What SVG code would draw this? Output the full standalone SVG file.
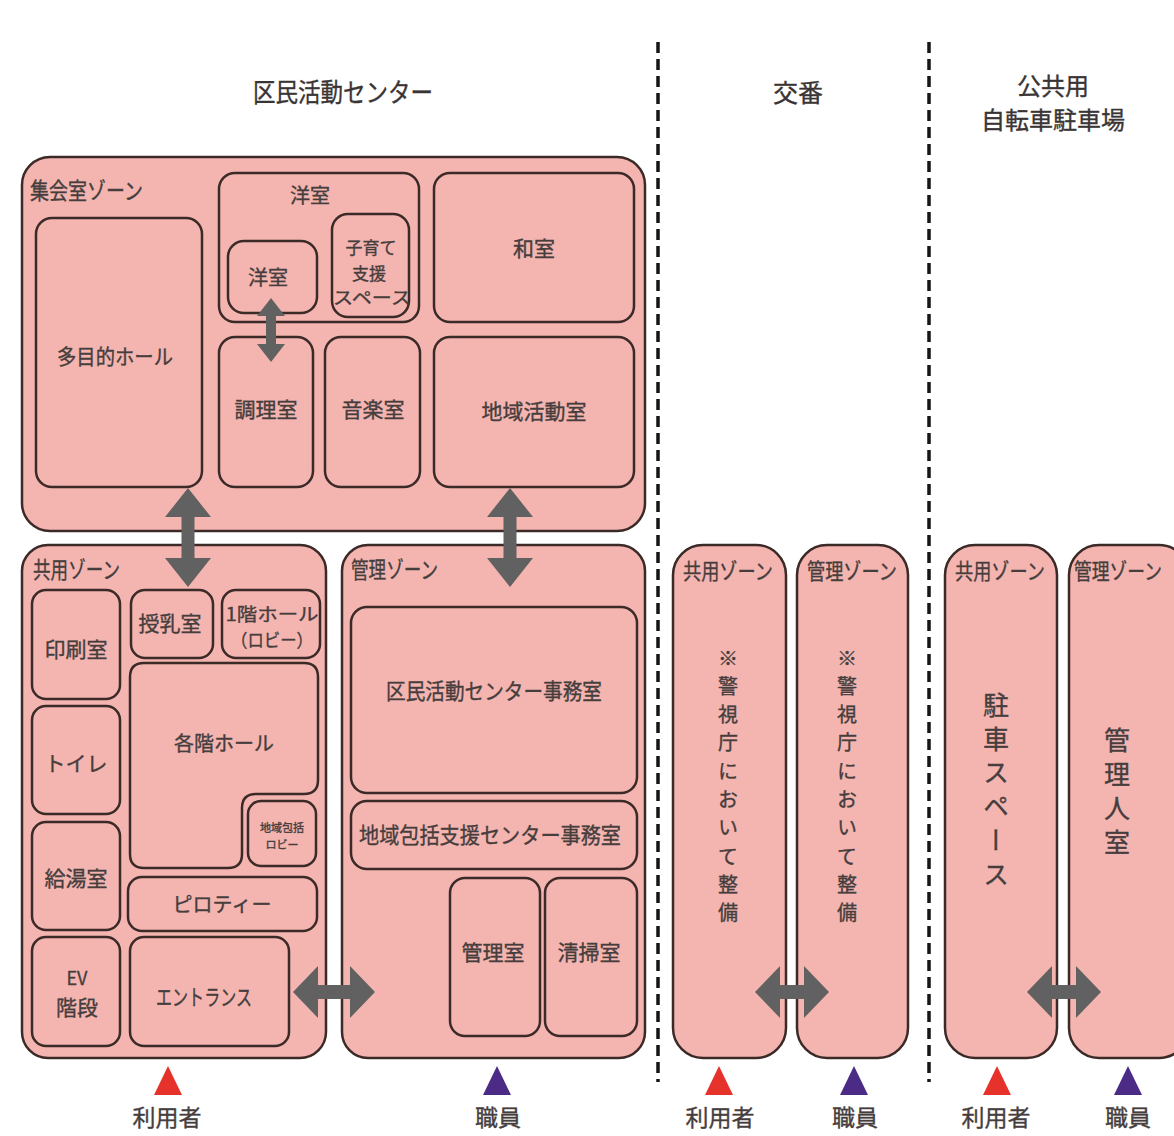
<svg xmlns="http://www.w3.org/2000/svg" width="1174" height="1136" viewBox="0 0 1174 1136">
<style>
.zone{fill:#f4b5b0;stroke:#3b2a27;stroke-width:2.5}
.room{fill:#f4b5b0;stroke:#3b2a27;stroke-width:2.5}
.t{font-family:"Noto Sans CJK JP","Noto Sans",sans-serif;fill:#463d3d;stroke:#463d3d;stroke-width:0.35;text-anchor:middle;dominant-baseline:central}
.h{fill:#3a3434;stroke:#3a3434}
.lab{text-anchor:start;font-size:23px}
.zl{font-size:22px}
.v{writing-mode:vertical-rl;text-anchor:start;dominant-baseline:auto}
.arrow{fill:#616161}
.dash{stroke:#151515;stroke-width:3.5;stroke-dasharray:11 6;fill:none}
.user{fill:#e5322b}
.staff{fill:#4b2b85}
</style>
<rect width="1174" height="1136" fill="#ffffff"/>

<g id="headers">
<text class="t h" x="343" y="90" font-size="26" textLength="180" lengthAdjust="spacingAndGlyphs">区民活動センター</text>
<text class="t h" x="798" y="91" font-size="25">交番</text>
<text class="t h" x="1053" y="84" font-size="24">公共用</text>
<text class="t h" x="1053" y="118" font-size="24">自転車駐車場</text>
</g>

<g id="dividers">
<line class="dash" x1="658" y1="42" x2="658" y2="1082"/>
<line class="dash" x1="929" y1="42" x2="929" y2="1082"/>
</g>

<g id="zone-meeting">
<rect class="zone" x="22" y="157" width="623" height="374" rx="28"/>
<text class="t lab" x="30" y="189" textLength="113" lengthAdjust="spacingAndGlyphs">集会室ゾーン</text>
</g>
<g id="room-hall">
<rect class="room" x="36" y="218" width="166" height="269" rx="16"/>
<text class="t" x="115" y="355" font-size="21" textLength="116" lengthAdjust="spacingAndGlyphs">多目的ホール</text>
</g>
<g id="room-western">
<rect class="room" x="219" y="173" width="200" height="149" rx="16"/>
<text class="t" x="310" y="194" font-size="20">洋室</text>
</g>
<g id="room-western-inner">
<rect class="room" x="228" y="241" width="89" height="72" rx="16"/>
<text class="t" x="268" y="276" font-size="20">洋室</text>
</g>
<g id="room-childcare">
<rect class="room" x="332" y="214" width="77" height="103" rx="16"/>
<text class="t" x="371" y="246" font-size="17">子育て</text>
<text class="t" x="369" y="272" font-size="17">支援</text>
<text class="t" x="372" y="296" font-size="17" textLength="78" lengthAdjust="spacingAndGlyphs">スペース</text>
</g>
<g id="room-japanese">
<rect class="room" x="434" y="173" width="200" height="149" rx="16"/>
<text class="t" x="534" y="247" font-size="21">和室</text>
</g>
<g id="room-cooking">
<rect class="room" x="219" y="337" width="94" height="150" rx="16"/>
<text class="t" x="266" y="408" font-size="21">調理室</text>
</g>
<g id="room-music">
<rect class="room" x="325" y="337" width="95" height="150" rx="16"/>
<text class="t" x="373" y="408" font-size="21">音楽室</text>
</g>
<g id="room-community">
<rect class="room" x="434" y="337" width="200" height="150" rx="16"/>
<text class="t" x="534" y="410" font-size="21">地域活動室</text>
</g>

<g id="zone-common">
<rect class="zone" x="22" y="545" width="304" height="513" rx="26"/>
<text class="t lab" x="33" y="568" textLength="87" lengthAdjust="spacingAndGlyphs">共用ゾーン</text>
</g>
<g id="room-print">
<rect class="room" x="32" y="590" width="88" height="109" rx="14"/>
<text class="t" x="76" y="648" font-size="21">印刷室</text>
</g>
<g id="room-nursing">
<rect class="room" x="131" y="590" width="82" height="68" rx="14"/>
<text class="t" x="170" y="622" font-size="21">授乳室</text>
</g>
<g id="room-lobby1">
<rect class="room" x="222" y="590" width="98" height="68" rx="14"/>
<text class="t" x="272" y="613" font-size="18" textLength="93" lengthAdjust="spacingAndGlyphs">1階ホール</text>
<text class="t" x="272" y="639" font-size="18" textLength="82" lengthAdjust="spacingAndGlyphs">（ロビー）</text>
</g>
<g id="room-floorhall">
<path class="room" d="M144,663 H304 Q318,663 318,677 V780 Q318,794 304,794 H256 Q242,794 242,808 V854 Q242,868 228,868 H144 Q130,868 130,854 V677 Q130,663 144,663 Z"/>
<text class="t" x="224" y="742" font-size="20">各階ホール</text>
</g>
<g id="room-local-lobby">
<rect class="room" x="248" y="801" width="68" height="65" rx="13"/>
<text class="t" x="282" y="827" font-size="11">地域包括</text>
<text class="t" x="282" y="844" font-size="11">ロビー</text>
</g>
<g id="room-toilet">
<rect class="room" x="32" y="706" width="88" height="108" rx="14"/>
<text class="t" x="76" y="762" font-size="21">トイレ</text>
</g>
<g id="room-kitchenette">
<rect class="room" x="32" y="822" width="88" height="108" rx="14"/>
<text class="t" x="76" y="877" font-size="21">給湯室</text>
</g>
<g id="room-piloti">
<rect class="room" x="128" y="877" width="189" height="54" rx="14"/>
<text class="t" x="222" y="903" font-size="20">ピロティー</text>
</g>
<g id="room-ev">
<rect class="room" x="32" y="937" width="88" height="109" rx="14"/>
<text class="t" x="77" y="977" font-size="18">EV</text>
<text class="t" x="77" y="1006" font-size="21">階段</text>
</g>
<g id="room-entrance">
<rect class="room" x="130" y="937" width="159" height="109" rx="14"/>
<text class="t" x="204" y="995" font-size="22" textLength="96" lengthAdjust="spacingAndGlyphs">エントランス</text>
</g>

<g id="zone-admin">
<rect class="zone" x="342" y="545" width="303" height="513" rx="26"/>
<text class="t lab" x="351" y="568" textLength="87" lengthAdjust="spacingAndGlyphs">管理ゾーン</text>
</g>
<g id="room-office">
<rect class="room" x="351" y="607" width="286" height="186" rx="16"/>
<text class="t" x="494" y="689" font-size="22" textLength="216" lengthAdjust="spacingAndGlyphs">区民活動センター事務室</text>
</g>
<g id="room-support-office">
<rect class="room" x="351" y="801" width="286" height="68" rx="16"/>
<text class="t" x="490" y="833" font-size="22" textLength="262" lengthAdjust="spacingAndGlyphs">地域包括支援センター事務室</text>
</g>
<g id="room-manager">
<rect class="room" x="450" y="878" width="90" height="158" rx="15"/>
<text class="t" x="493" y="951" font-size="21">管理室</text>
</g>
<g id="room-cleaning">
<rect class="room" x="545" y="878" width="92" height="158" rx="15"/>
<text class="t" x="589" y="951" font-size="21">清掃室</text>
</g>

<g id="koban-common">
<rect class="zone" x="673" y="545" width="113" height="513" rx="30"/>
<text class="t zl" x="728" y="569" textLength="90" lengthAdjust="spacingAndGlyphs">共用ゾーン</text>
<text class="t v" x="728" y="648" font-size="20" letter-spacing="8.3">※警視庁において整備</text>
</g>
<g id="koban-admin">
<rect class="zone" x="797" y="545" width="111" height="513" rx="30"/>
<text class="t zl" x="852" y="569" textLength="90" lengthAdjust="spacingAndGlyphs">管理ゾーン</text>
<text class="t v" x="847" y="648" font-size="20" letter-spacing="8.3">※警視庁において整備</text>
</g>

<g id="bike-common">
<rect class="zone" x="945" y="545" width="112" height="513" rx="30"/>
<text class="t zl" x="1000" y="569" textLength="90" lengthAdjust="spacingAndGlyphs">共用ゾーン</text>
<text class="t v" x="996" y="692" font-size="26" letter-spacing="7.8">駐車スペース</text>
</g>
<g id="bike-admin">
<rect class="zone" x="1069" y="545" width="120" height="513" rx="30"/>
<text class="t zl" x="1118" y="569" textLength="88" lengthAdjust="spacingAndGlyphs">管理ゾーン</text>
<text class="t v" x="1117" y="727" font-size="26" letter-spacing="8">管理人室</text>
</g>

<g id="connectors">
<path class="arrow" d="M188,488 L211,517 L194.5,517 L194.5,558 L211,558 L188,587 L165,558 L181.5,558 L181.5,517 L165,517 Z"/>
<path class="arrow" d="M510,488 L533,517 L516.5,517 L516.5,558 L533,558 L510,587 L487,558 L503.5,558 L503.5,517 L487,517 Z"/>
<path class="arrow" d="M271,298 L285,316 L276,316 L276,344 L285,344 L271,362 L257,344 L266,344 L266,316 L257,316 Z"/>
<path class="arrow" d="M293,992 L318,966 L318,985 L350,985 L350,966 L375,992 L350,1018 L350,999 L318,999 L318,1018 Z"/>
<path class="arrow" d="M755,992 L780,966 L780,985 L804,985 L804,966 L829,992 L804,1018 L804,999 L780,999 L780,1018 Z"/>
<path class="arrow" d="M1027,992 L1052,966 L1052,985 L1076,985 L1076,966 L1101,992 L1076,1018 L1076,999 L1052,999 L1052,1018 Z"/>
</g>

<g id="legend">
<polygon class="user" points="168,1066 182,1095 154,1095"/>
<text class="t" x="167" y="1116" font-size="23">利用者</text>
<polygon class="staff" points="497,1066 511,1095 483,1095"/>
<text class="t" x="498" y="1116" font-size="23">職員</text>
<polygon class="user" points="719,1066 733,1095 705,1095"/>
<text class="t" x="720" y="1116" font-size="23">利用者</text>
<polygon class="staff" points="854,1066 868,1095 840,1095"/>
<text class="t" x="855" y="1116" font-size="23">職員</text>
<polygon class="user" points="997,1066 1011,1095 983,1095"/>
<text class="t" x="996" y="1116" font-size="23">利用者</text>
<polygon class="staff" points="1128,1066 1142,1095 1114,1095"/>
<text class="t" x="1128" y="1116" font-size="23">職員</text>
</g>
</svg>
